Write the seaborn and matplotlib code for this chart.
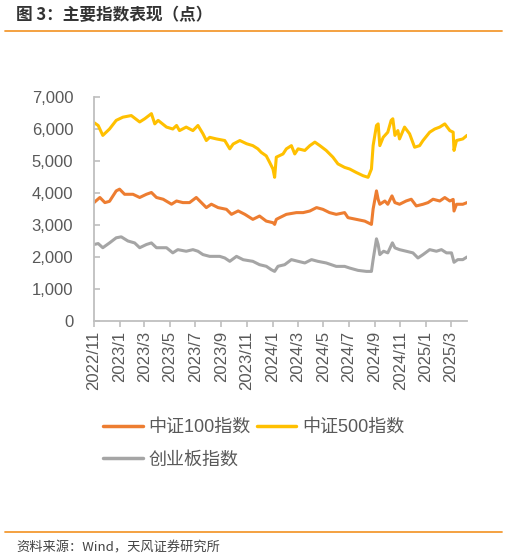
import numpy as np
import pandas as pd
import matplotlib
matplotlib.use("Agg")
import matplotlib.pyplot as plt
import matplotlib.dates as mdates
from matplotlib.lines import Line2D
from matplotlib.ticker import FuncFormatter, MultipleLocator
import seaborn as sns

# ---------------- data ----------------
series_names = ["中证100指数", "中证500指数", "创业板指数"]
series_colors = ["#ED7D31", "#FFC000", "#A5A5A5"]

csi100_dates = ["2022-11-01", "2022-11-15", "2022-11-27", "2022-12-08", "2022-12-24", "2023-01-01", "2023-01-13",
                "2023-02-02", "2023-02-18", "2023-03-06", "2023-03-18", "2023-03-30", "2023-04-15", "2023-05-05",
                "2023-05-17", "2023-06-01", "2023-06-17", "2023-07-03", "2023-07-19", "2023-07-27", "2023-08-08",
                "2023-08-24", "2023-09-13", "2023-09-25", "2023-10-11", "2023-10-27", "2023-11-15", "2023-12-01",
                "2023-12-17", "2024-01-02", "2024-01-06", "2024-01-10", "2024-01-18", "2024-02-03", "2024-02-27",
                "2024-03-14", "2024-03-30", "2024-04-15", "2024-04-30", "2024-05-16", "2024-06-01", "2024-06-21",
                "2024-06-29", "2024-07-19", "2024-08-08", "2024-08-24", "2024-08-28", "2024-09-05", "2024-09-09",
                "2024-09-13", "2024-09-25", "2024-10-02", "2024-10-12", "2024-10-19", "2024-10-30", "2024-11-15",
                "2024-11-27", "2024-12-09", "2024-12-25", "2025-01-06", "2025-01-18", "2025-02-03", "2025-02-15",
                "2025-02-27", "2025-03-07", "2025-03-09", "2025-03-15", "2025-03-30", "2025-04-09"]
csi100_values = [3700, 3860, 3700, 3740, 4066, 4120, 3960, 3960, 3860, 3960,
                 4016, 3860, 3805, 3650, 3750, 3700, 3700, 3860, 3650, 3544,
                 3650, 3544, 3490, 3333, 3440, 3333, 3176, 3280, 3122, 3072,
                 3019, 3176, 3230, 3333, 3387, 3387, 3437, 3544, 3490, 3387,
                 3333, 3387, 3230, 3176, 3122, 3019, 3500, 4066, 3800, 3648,
                 3750, 3648, 3910, 3700, 3648, 3752, 3805, 3596, 3648, 3700,
                 3805, 3750, 3858, 3750, 3800, 3437, 3648, 3648, 3700]

csi500_dates = ["2022-11-01", "2022-11-11", "2022-11-22", "2022-12-08", "2022-12-24", "2023-01-09", "2023-01-29",
                "2023-02-18", "2023-03-02", "2023-03-18", "2023-03-26", "2023-04-03", "2023-04-23", "2023-05-08",
                "2023-05-17", "2023-05-24", "2023-06-09", "2023-06-25", "2023-07-07", "2023-07-19", "2023-07-27",
                "2023-08-04", "2023-08-20", "2023-09-09", "2023-09-21", "2023-09-29", "2023-10-15", "2023-10-31",
                "2023-11-15", "2023-11-27", "2023-12-05", "2023-12-17", "2023-12-25", "2024-01-02", "2024-01-06",
                "2024-01-10", "2024-01-18", "2024-01-26", "2024-02-03", "2024-02-15", "2024-02-23", "2024-03-02",
                "2024-03-18", "2024-03-30", "2024-04-11", "2024-04-23", "2024-05-08", "2024-05-24", "2024-06-05",
                "2024-06-21", "2024-07-03", "2024-07-19", "2024-08-04", "2024-08-16", "2024-08-24", "2024-08-28",
                "2024-09-05", "2024-09-09", "2024-09-13", "2024-09-21", "2024-10-02", "2024-10-10", "2024-10-14",
                "2024-10-19", "2024-10-26", "2024-10-30", "2024-11-11", "2024-11-23", "2024-12-05", "2024-12-17",
                "2024-12-25", "2025-01-10", "2025-01-22", "2025-02-03", "2025-02-15", "2025-02-27", "2025-03-07",
                "2025-03-09", "2025-03-15", "2025-03-30", "2025-04-09"]
csi500_values = [6200, 6110, 5800, 6000, 6270, 6370, 6420, 6220, 6320, 6480,
                 6160, 6270, 6060, 6000, 6110, 5950, 6060, 5950, 6110, 5850,
                 5640, 5740, 5690, 5640, 5380, 5530, 5640, 5540, 5480, 5380,
                 5270, 5160, 4960, 4750, 4490, 5120, 5170, 5220, 5380, 5480,
                 5220, 5380, 5330, 5480, 5590, 5480, 5330, 5120, 4910, 4800,
                 4750, 4640, 4540, 4490, 4750, 5480, 6110, 6160, 5480, 5740,
                 5900, 6270, 6320, 5800, 5950, 5690, 6060, 5850, 5430, 5480,
                 5640, 5900, 6000, 6060, 6160, 5950, 5900, 5330, 5640, 5690,
                 5800]

chinext_dates = ["2022-11-01", "2022-11-11", "2022-11-22", "2022-12-08", "2022-12-24", "2023-01-05", "2023-01-21",
                 "2023-02-06", "2023-02-18", "2023-03-06", "2023-03-18", "2023-03-30", "2023-04-23", "2023-05-08",
                 "2023-05-20", "2023-06-09", "2023-06-25", "2023-07-07", "2023-07-19", "2023-08-04", "2023-08-28",
                 "2023-09-09", "2023-09-21", "2023-10-07", "2023-10-23", "2023-11-15", "2023-12-01", "2023-12-17",
                 "2023-12-29", "2024-01-06", "2024-01-14", "2024-01-30", "2024-02-15", "2024-03-02", "2024-03-18",
                 "2024-04-03", "2024-04-18", "2024-05-08", "2024-06-01", "2024-06-21", "2024-07-03", "2024-07-23",
                 "2024-08-12", "2024-08-24", "2024-08-28", "2024-09-05", "2024-09-09", "2024-09-13", "2024-09-22",
                 "2024-10-02", "2024-10-13", "2024-10-19", "2024-10-30", "2024-11-15", "2024-12-01", "2024-12-13",
                 "2024-12-25", "2025-01-10", "2025-01-26", "2025-02-07", "2025-02-19", "2025-03-03", "2025-03-09",
                 "2025-03-18", "2025-03-30", "2025-04-09"]
chinext_values = [2390, 2420, 2290, 2440, 2600, 2630, 2500, 2440, 2290, 2390,
                  2440, 2290, 2290, 2130, 2230, 2180, 2230, 2180, 2075, 2020,
                  2020, 1970, 1865, 2020, 1915, 1865, 1760, 1710, 1604, 1550,
                  1710, 1760, 1918, 1865, 1814, 1918, 1865, 1814, 1707, 1707,
                  1655, 1582, 1550, 1550, 1918, 2568, 2390, 2075, 2180, 2129,
                  2443, 2286, 2230, 2180, 2129, 1970, 2075, 2230, 2180, 2230,
                  2129, 2129, 1835, 1918, 1918, 2000]

x_start, x_end = "2022-11-01", "2025-04-09"
y_ticks = [0, 1000, 2000, 3000, 4000, 5000, 6000, 7000]

title_text = "图 3：主要指数表现（点）"
source_text = "资料来源：Wind，天风证券研究所"

# ---------------- build frame ----------------
frames = []
for name, d, v in zip(series_names,
                      [csi100_dates, csi500_dates, chinext_dates],
                      [csi100_values, csi500_values, chinext_values]):
    frames.append(pd.DataFrame({"date": pd.to_datetime(d), "value": v, "series": name}))
df = pd.concat(frames, ignore_index=True)

# ---------------- style ----------------
sns.set_style("white")
plt.rcParams["font.family"] = ["Liberation Sans", "Noto Sans CJK SC", "DejaVu Sans"]
cjk = ["Noto Sans CJK SC", "DejaVu Sans"]
mixed = ["Liberation Sans", "Noto Sans CJK SC", "DejaVu Sans"]
axis_grey = "#BFBFBF"
text_grey = "#595959"
rule_orange = "#F39A32"

fig = plt.figure(figsize=(5.08, 5.6), dpi=100)
ax = fig.add_axes([94 / 508, 1 - 321 / 560, (467 - 94) / 508, (321 - 97) / 560])

sns.lineplot(data=df, x="date", y="value", hue="series", hue_order=series_names,
             palette=series_colors, linewidth=2.2, estimator=None, ax=ax, legend=True)

ax.set_xlim(pd.Timestamp(x_start), pd.Timestamp(x_end))
ax.set_ylim(y_ticks[0], y_ticks[-1])
ax.set_yticks(y_ticks)
ax.yaxis.set_major_formatter(FuncFormatter(lambda v, p: f"{int(v):,}"))
ax.xaxis.set_major_locator(mdates.MonthLocator(bymonth=[1, 3, 5, 7, 9, 11]))
ax.xaxis.set_major_formatter(FuncFormatter(lambda v, p: f"{mdates.num2date(v).year}/{mdates.num2date(v).month}"))
ax.set_xlabel("")
ax.set_ylabel("")

for s in ["top", "right"]:
    ax.spines[s].set_visible(False)
for s in ["left", "bottom"]:
    ax.spines[s].set_color(axis_grey)
    ax.spines[s].set_linewidth(1.3)

ax.tick_params(axis="y", direction="in", length=4, width=1.2, color=axis_grey,
               labelsize=12, labelcolor=text_grey, pad=15, left=True)
ax.tick_params(axis="x", direction="out", length=4, width=1.2, color=axis_grey,
               labelsize=12, labelcolor=text_grey, pad=3, bottom=True, labelrotation=90)
for lbl in ax.get_xticklabels() + ax.get_yticklabels():
    lbl.set_family(mixed)

# legend (row-wise order: 100, 500 / 创业板)
handles, labels = ax.get_legend_handles_labels()
ax.get_legend().remove()
lookup = dict(zip(labels, handles))
order = [series_names[0], series_names[2], series_names[1]]
leg = fig.legend([lookup[n] for n in order], order, loc="upper left",
                 bbox_to_anchor=(103 / 508, 1 - 419 / 560),
                 ncol=2, frameon=False, handlelength=2.2, handletextpad=0.3,
                 columnspacing=0.35, labelspacing=0.85, borderpad=0, borderaxespad=0,
                 prop={"family": mixed, "size": 13})
for line in leg.get_lines():
    line.set_linewidth(2.5)
for t in leg.get_texts():
    t.set_color(text_grey)

# title, rules, source
fig.text(16 / 508, 1 - 15 / 560, title_text, fontsize=12, fontweight="bold",
         color="#333333", va="center", ha="left", family=cjk)
fig.add_artist(Line2D([5 / 508, 502 / 508], [1 - 30.5 / 560] * 2, color=rule_orange, lw=1.3))
fig.add_artist(Line2D([5 / 508, 502 / 508], [1 - 531.5 / 560] * 2, color=rule_orange, lw=1.3))
fig.text(16 / 508, 1 - 548 / 560, source_text, fontsize=9.5, color="#444444",
         va="center", ha="left", family=cjk)

fig.savefig("out.png", dpi=100)
